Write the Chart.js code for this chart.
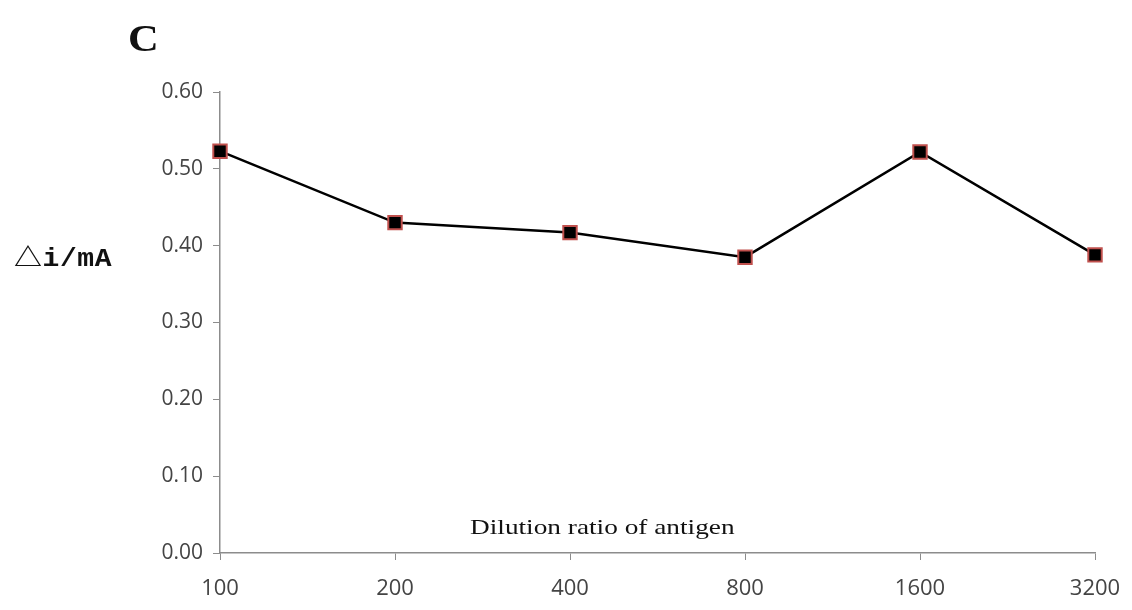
<!DOCTYPE html>
<html>
<head>
<meta charset="utf-8">
<script src="https://cdn.jsdelivr.net/npm/chart.js@4/dist/chart.umd.min.js"></script>
<style>
  body { margin: 0; background: #fff; }
  #wrap { position: relative; width: 1132px; height: 610px; }
  .lbl { position: absolute; color: #111; white-space: nowrap; transform-origin: left top; }
</style>
</head>
<body>
<div id="wrap">
  <canvas id="myChart" width="1132" height="610"></canvas>
  <div class="lbl" style="left:128px; top:17px; font:bold 37px 'Liberation Serif', serif; transform:scaleX(1.15);">C</div>
  <div class="lbl" style="left:14px; top:237px; font:bold 25px 'Liberation Mono', 'Noto Sans CJK SC', monospace; letter-spacing:0.5px; transform:scaleX(1.12);">△i/mA</div>
  <div class="lbl" style="left:470px; top:515px; font:21px 'Liberation Serif', serif; transform:scaleX(1.3);">Dilution ratio of antigen</div>
</div>
<script>
    // dilution ratios on x, current change on y
    var labels = ["100", "200", "400", "800", "1600", "3200"];
    var deltaI = [0.523, 0.430, 0.417, 0.385, 0.522, 0.388];
    var yTicks = [0, 0.1, 0.2, 0.3, 0.4, 0.5, 0.6];

    var axisGray = "#8c8c8c";
    var ctx = document.getElementById("myChart");

    var myChart = new Chart(ctx, {
        type: 'line',
        data: {
            labels: labels,
            datasets: [{
                data: deltaI,
                borderColor: "#000",
                borderWidth: 2.5,
                pointStyle: 'rect',
                pointRadius: 9.5,
                pointBorderWidth: 2,
                pointBackgroundColor: "#000",
                pointBorderColor: "#c0504d",
                tension: 0
            }]
        },
        options: {
            responsive: false,
            animation: false,
            layout: { padding: { top: 92, right: 37, left: 0, bottom: 0 } },
            plugins: { legend: { display: false }, tooltip: { enabled: false } },
            scales: {
                x: {
                    offset: false,
                    grid: { drawOnChartArea: false, drawTicks: true, tickLength: 7, color: axisGray },
                    border: { color: axisGray, width: 1.5 },
                    ticks: { color: "#444", font: { family: "Open Sans", size: 22 }, padding: 16, maxRotation: 0 },
                    afterFit: function (scale) {
                        scale.height = 57;
                        // let the last label hang into the right margin
                        scale.paddingLeft = 0;
                        scale.paddingRight = 0;
                    }
                },
                y: {
                    min: 0,
                    max: 0.6,
                    afterBuildTicks: function (scale) {
                        scale.ticks = yTicks.map(function (v) { return { value: v }; });
                    },
                    grid: { drawOnChartArea: false, drawTicks: true, tickLength: 7, color: axisGray },
                    border: { color: axisGray, width: 1.5 },
                    ticks: {
                        color: "#444",
                        font: { family: "Open Sans", size: 21 },
                        padding: 10,
                        callback: function (v) { return Number(v).toFixed(2); }
                    },
                    afterFit: function (scale) { scale.width = 220; }
                }
            }
        }
    });
</script>
</body>
</html>
